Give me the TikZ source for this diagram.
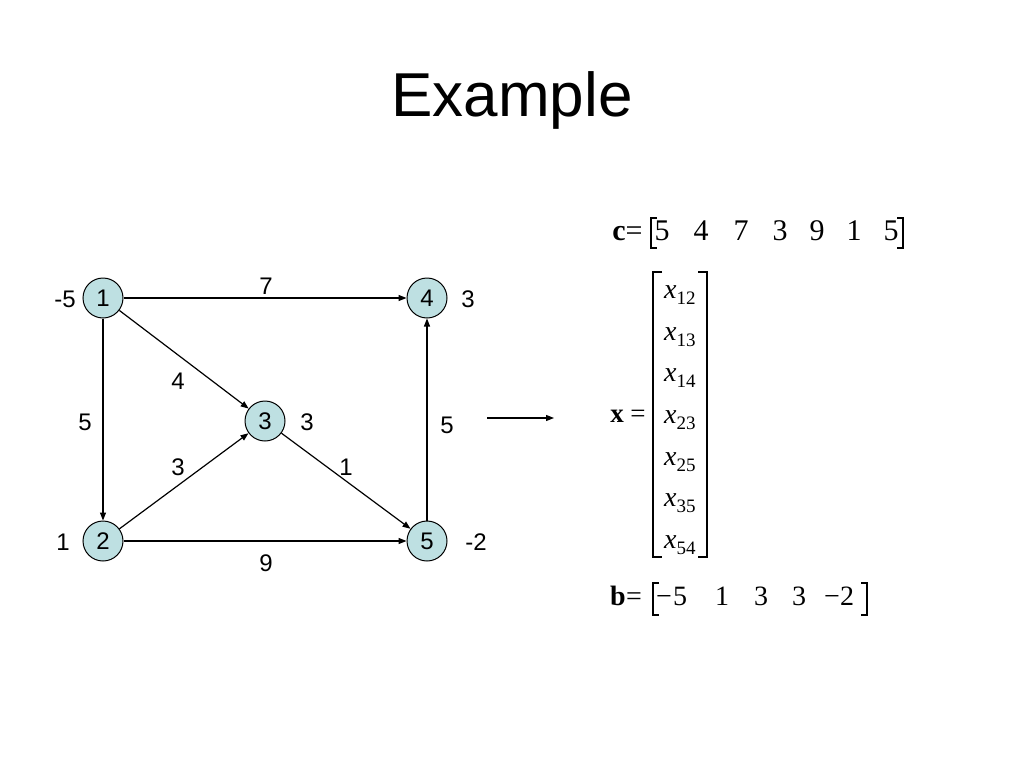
\documentclass[tikz,border=0pt]{standalone}
\usepackage{fontspec}
\setmainfont{Liberation Sans}
\newfontfamily\tms{Liberation Serif}
\usetikzlibrary{arrows.meta}
\definecolor{nodefill}{RGB}{190,224,226}
\begin{document}
\begin{tikzpicture}[x=1pt,y=-1pt,
  vtx/.style={circle,draw=black,line width=1pt,fill=nodefill,minimum size=40pt,inner sep=0pt,font=\fontsize{24}{24}\selectfont},
  lbl/.style={inner sep=0pt,font=\fontsize{24}{24}\selectfont},
  edge/.style={line width=1.2pt,-{Triangle[length=8pt,width=6pt]}},
  mc/.style={inner sep=0pt,anchor=base,font=\tms\fontsize{30}{30}\selectfont},
  mb/.style={inner sep=0pt,anchor=base,font=\tms\fontsize{28}{28}\selectfont},
  mx/.style={inner sep=0pt,anchor=base,font=\tms\fontsize{27}{27}\selectfont},
  xe/.style={inner sep=0pt,anchor=base west,font=\tms\fontsize{28}{28}\selectfont},
  brk/.style={line width=1.4pt}]
\useasboundingbox (0,0) rectangle (1024,768);
\node[inner sep=0pt,font=\fontsize{62}{62}\selectfont] (title) at (512,100) {Example};
% vertices
\node[vtx] (n1) at (103,298) {1};
\node[vtx] (n4) at (427,298) {4};
\node[vtx] (n3) at (265,421) {3};
\node[vtx] (n2) at (103,541) {2};
\node[vtx] (n5) at (427,541) {5};
% vertex labels
\node[lbl] (b1) at (65,299) {-5};
\node[lbl] (b4) at (468,299) {3};
\node[lbl] (b3) at (307,422) {3};
\node[lbl] (b2) at (63,542) {1};
\node[lbl] (b5) at (476,542) {-2};
% edges
\draw[edge] (n1) -- (n4);
\draw[edge] (n1) -- (n3);
\draw[edge] (n1) -- (n2);
\draw[edge] (n2) -- (n3);
\draw[edge] (n2) -- (n5);
\draw[edge] (n3) -- (n5);
\draw[edge] (n5) -- (n4);
% edge labels
\node[lbl] (w14) at (266,286) {7};
\node[lbl] (w13) at (178,381) {4};
\node[lbl] (w12) at (85,422) {5};
\node[lbl] (w23) at (178,467) {3};
\node[lbl] (w35) at (346,467) {1};
\node[lbl] (w25) at (266,563) {9};
\node[lbl] (w54) at (447,425) {5};
% big arrow
\coordinate (a0) at (487,418);
\coordinate (a1) at (554,418);
\draw[edge] (a0) -- (a1);
% c vector
\node[mc] (cc) at (619,240) {\bfseries c};
\node[mc] (ceq) at (634,240) {=};
\draw[brk] (657,218) -- (651,218) -- (651,248) -- (657,248);
\node[mc] (c1) at (662,240) {5};
\node[mc] (c2) at (701,240) {4};
\node[mc] (c3) at (741,240) {7};
\node[mc] (c4) at (780,240) {3};
\node[mc] (c5) at (817,240) {9};
\node[mc] (c6) at (854,240) {1};
\node[mc] (c7) at (891,240) {5};
\draw[brk] (897,218) -- (903,218) -- (903,248) -- (897,248);
% x vector
\node[mx] (xx) at (617,422) {\bfseries x};
\node[mx] (xeq) at (638,422) {=};
\draw[brk] (662,272) -- (653,272) -- (653,557) -- (662,557);
\draw[brk] (698,272) -- (707,272) -- (707,557) -- (698,557);
\foreach \s/\yy [count=\i] in {12/298,13/340,14/381,23/423,25/465,35/506,54/548}{
  \node[xe] (x\i) at (664,\yy) {\fontshape{it}\selectfont x\/{\fontshape{n}\fontsize{19}{19}\selectfont\raisebox{-6pt}{\s}}};
}
% b vector
\node[mb] (bb) at (618,605) {\bfseries b};
\node[mb] (beq) at (634,605) {=};
\draw[brk] (659,583) -- (653,583) -- (653,615) -- (659,615);
\node[mb] (bm1) at (664,605) {−};
\node[mb] (bv1) at (680,605) {5};
\node[mb] (bv2) at (722,605) {1};
\node[mb] (bv3) at (761,605) {3};
\node[mb] (bv4) at (799,605) {3};
\node[mb] (bm5) at (832,605) {−};
\node[mb] (bv5) at (847,605) {2};
\draw[brk] (861,583) -- (867,583) -- (867,615) -- (861,615);
\end{tikzpicture}
\end{document}
